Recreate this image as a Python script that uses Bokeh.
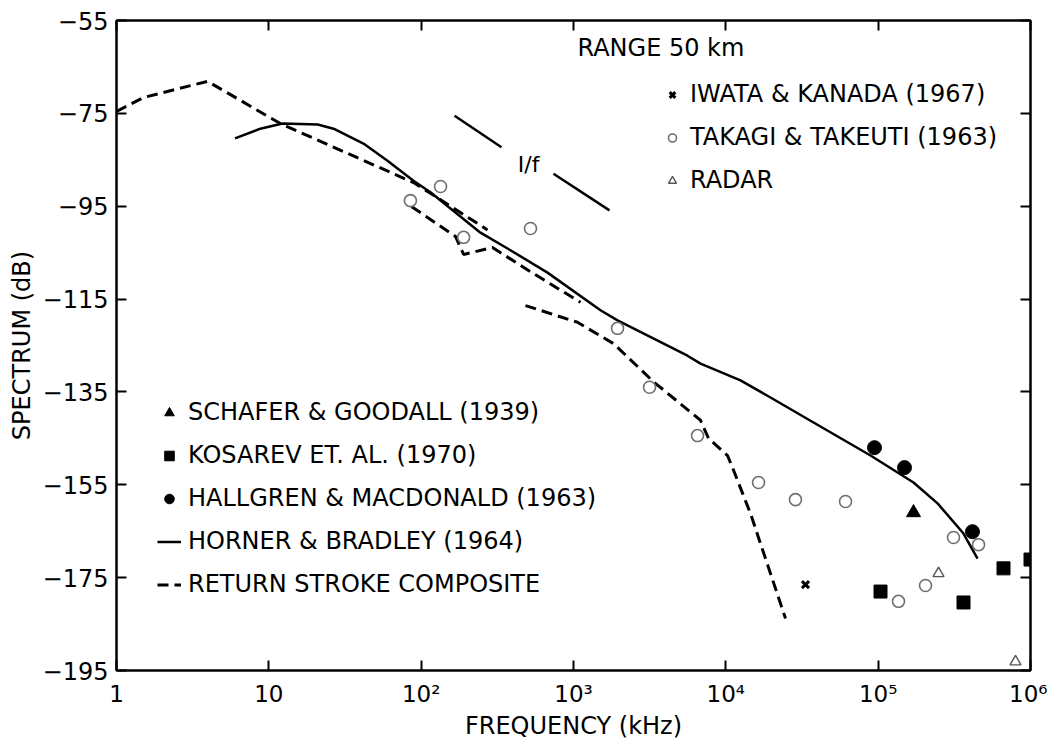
import math
from bokeh.plotting import figure
from bokeh.models import LinearAxis, LogAxis, FixedTicker, Legend, LegendItem, CustomJSTickFormatter
from bokeh.embed import file_html
from bokeh.resources import INLINE
from bokeh.core.properties import value

FONT = "DejaVu Sans"

# ---------------- data ----------------
x_ticks = [1, 10, 100, 1000, 10000, 100000, 1000000]
x_tick_labels = ["1", "10", "10²", "10³", "10⁴", "10⁵", "10⁶"]
y_ticks = [-55, -75, -95, -115, -135, -155, -175, -195]
y_tick_labels = ["−55", "−75", "−95", "−115", "−135", "−155", "−175", "−195"]

# Horner & Bradley (1964) - solid curve
horner_f = [6.0, 8.8, 12.3, 20.9, 26.6, 41.8, 60.1, 89, 115, 245, 369, 675,
            1504, 1945, 5600, 6820, 12480, 19640, 35970, 89100, 170600,
            245400, 363300, 449000]
horner_db = [-80.4, -78.3, -77.2, -77.4, -78.3, -81.5, -85.2, -89.5, -92.0,
             -100.7, -104.1, -109.3, -117.4, -119.6, -127.2, -128.9, -132.5,
             -136.2, -141.2, -148.7, -154.5, -159.0, -165.5, -170.9]

# Return stroke composite - dashed pieces
comp_a_f = [1.0, 1.5, 3.96, 11.9, 89.0, 134, 272.6]
comp_a_db = [-74.6, -71.6, -68.1, -77.2, -89.9, -93.6, -100.1]
comp_b_f = [86.6, 168, 190, 294, 522, 1112]
comp_b_db = [-95.1, -101.5, -105.4, -103.9, -109.1, -115.7]
comp_c_f = [484, 1062, 1832, 3350, 6820, 7700, 10260, 11060, 14520, 24650]
comp_c_db = [-116.4, -120.0, -124.6, -132.8, -141.1, -145.0, -148.7, -151.3,
             -161.2, -183.8]

# 1/f reference slope
slope1_f = [165.6, 336.7]
slope1_db = [-75.5, -82.3]
slope2_f = [739, 1723]
slope2_db = [-88.0, -95.9]

# Takagi & Takeuti (1963)
takagi_f = [85, 134, 190, 522, 1945, 3156, 6520, 16390, 28650, 61050,
            136000, 204600, 312300, 456000]
takagi_db = [-93.8, -90.75, -101.7, -99.8, -121.3, -134.0, -144.4, -154.5,
             -158.2, -158.6, -180.1, -176.7, -166.35, -167.9]

# Hallgren & Macdonald (1963)
hallgren_f = [94600, 148900, 416000]
hallgren_db = [-147.0, -151.3, -165.1]

# Schafer & Goodall (1939)
schafer_f = [170600]
schafer_db = [-161.0]

# Kosarev et al. (1970)
kosarev_f = [103600, 363300, 665000, 1000000]
kosarev_db = [-178.0, -180.35, -173.0, -171.1]

# Radar
radar_f = [249000, 797500]
radar_db = [-174.1, -193.1]

# Iwata & Kanada (1967)
iwata_f = [33340]
iwata_db = [-176.5]

# annotation anchors
range_label = "RANGE 50 km"
range_f, range_db = 1062, -61.0
slope_label = "I/f"
slope_lab_f, slope_lab_db = 507, -86.0

# ---------------- figure ----------------
p = figure(x_axis_type="log", x_range=(1, 1e6), y_range=(-195, -55),
           frame_width=914, frame_height=650,
           min_border_left=116, min_border_right=17,
           min_border_top=20, min_border_bottom=71,
           output_backend="svg", toolbar_location=None,
           background_fill_color="white", border_fill_color="white")
p.grid.visible = False
p.outline_line_color = "black"
p.outline_line_width = 2

def style_axis(ax, font_size):
    ax.axis_line_width = 2
    ax.axis_line_color = "black"
    ax.major_tick_in = 10
    ax.major_tick_out = 0
    ax.major_tick_line_width = 2
    ax.major_tick_line_color = "black"
    ax.minor_tick_in = 0
    ax.minor_tick_out = 0
    ax.major_label_text_font = FONT
    ax.major_label_text_font_size = font_size
    ax.major_label_text_color = "black"
    ax.axis_label_text_font = FONT
    ax.axis_label_text_font_size = "24px"
    ax.axis_label_text_font_style = "normal"
    ax.axis_label_text_color = "black"

xa = p.xaxis[0]
xa.ticker = FixedTicker(ticks=x_ticks)
xa.formatter = CustomJSTickFormatter(
    args=dict(vals=x_ticks, labs=x_tick_labels),
    code="""
    for (let i = 0; i < vals.length; i++) {
        if (Math.abs(Math.log10(tick) - Math.log10(vals[i])) < 1e-6) return labs[i];
    }
    return "";
    """)
style_axis(xa, "23px")
xa.major_label_standoff = 10
xa.axis_label = "FREQUENCY (kHz)"
xa.axis_label_standoff = 2

ya = p.yaxis[0]
ya.ticker = FixedTicker(ticks=y_ticks)
ya.formatter = CustomJSTickFormatter(
    args=dict(vals=y_ticks, labs=y_tick_labels),
    code="""
    for (let i = 0; i < vals.length; i++) {
        if (Math.abs(tick - vals[i]) < 1e-6) return labs[i];
    }
    return "";
    """)
style_axis(ya, "24px")
ya.major_label_standoff = 8
ya.axis_label = "SPECTRUM (dB)"
ya.axis_label_standoff = 4

top = LogAxis(ticker=FixedTicker(ticks=x_ticks),
              formatter=CustomJSTickFormatter(code="return '';"))
style_axis(top, "2px")
top.major_label_standoff = 0
p.add_layout(top, "above")

right = LinearAxis(ticker=FixedTicker(ticks=y_ticks),
                   formatter=CustomJSTickFormatter(code="return '';"))
style_axis(right, "2px")
right.major_label_standoff = 0
p.add_layout(right, "right")

# ---------------- curves ----------------
r_horner = p.line(horner_f, horner_db, line_color="black", line_width=2.5)
r_comp = p.multi_line([comp_a_f, comp_b_f, comp_c_f],
                      [comp_a_db, comp_b_db, comp_c_db],
                      line_color="black", line_width=3, line_dash="11 6")
p.multi_line([slope1_f, slope2_f], [slope1_db, slope2_db],
             line_color="black", line_width=2.5)

# ---------------- markers ----------------
r_takagi = p.scatter(takagi_f, takagi_db, marker="circle", size=12,
                     fill_color=None, line_color="#6e6e6e", line_width=1.6)
r_hall = p.scatter(hallgren_f, hallgren_db, marker="circle", size=14,
                   fill_color="black", line_color="black")
r_kos = p.scatter(kosarev_f, kosarev_db, marker="square", size=13,
                  fill_color="black", line_color="black")
r_sch = p.scatter(schafer_f, schafer_db, marker="triangle", size=14,
                  fill_color="black", line_color="black")
r_radar = p.scatter(radar_f, radar_db, marker="triangle", size=11,
                    fill_color=None, line_color="#555555", line_width=1.4)
r_iwata = p.scatter(iwata_f, iwata_db, marker="x", size=10,
                    line_color="black", line_width=3)

# ---------------- texts ----------------
p.text(x=[range_f], y=[range_db], text=[range_label],
       text_font=value(FONT), text_font_size="24px", text_color="black",
       text_align="left", text_baseline="middle")
p.text(x=[slope_lab_f], y=[slope_lab_db], text=[slope_label],
       text_font=value(FONT), text_font_size="22px", text_color="black",
       text_align="center", text_baseline="middle")

# ---------------- legends ----------------
def make_legend(items, loc, glyph_w, standoff):
    lg = Legend(items=items, location=loc, orientation="vertical",
                glyph_width=glyph_w, glyph_height=43, label_height=43,
                label_standoff=standoff, spacing=0, padding=0, margin=0,
                background_fill_alpha=0, border_line_alpha=0,
                label_text_font=FONT, label_text_font_size="24px",
                label_text_color="black")
    return lg

lg_top = make_legend([
    LegendItem(label="IWATA & KANADA (1967)", renderers=[r_iwata]),
    LegendItem(label="TAKAGI & TAKEUTI (1963)", renderers=[r_takagi]),
    LegendItem(label="RADAR", renderers=[r_radar]),
], (546, 468.5), 20, 8)

lg_bot = make_legend([
    LegendItem(label="SCHAFER & GOODALL (1939)", renderers=[r_sch]),
    LegendItem(label="KOSAREV ET. AL. (1970)", renderers=[r_kos]),
    LegendItem(label="HALLGREN & MACDONALD (1963)", renderers=[r_hall]),
    LegendItem(label="HORNER & BRADLEY (1964)", renderers=[r_horner]),
    LegendItem(label="RETURN STROKE COMPOSITE", renderers=[r_comp]),
], (41, 64.5), 24, 7)

p.add_layout(lg_top, "center")
p.add_layout(lg_bot, "center")

open("out.html", "w").write(file_html(p, INLINE))
